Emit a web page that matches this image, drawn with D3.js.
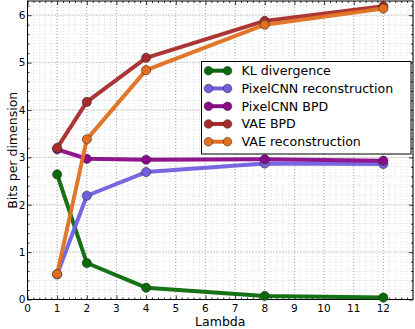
<!DOCTYPE html>
<html><head><meta charset="utf-8">
<script src="https://cdn.jsdelivr.net/npm/d3@7"></script>
<style>body{margin:0;background:#fff}svg{display:block}text{font-family:"DejaVu Sans",sans-serif}</style>
</head><body>
<script>
const lambdas = [1, 2, 4, 8, 12];
const klDivergence = [2.64, 0.77, 0.25, 0.076, 0.04];
const pixelcnnRecon = [0.53, 2.19, 2.69, 2.87, 2.86];
const pixelcnnBPD = [3.17, 2.97, 2.95, 2.96, 2.93];
const vaeBPD = [3.2, 4.17, 5.1, 5.88, 6.19];
const vaeRecon = [0.54, 3.38, 4.84, 5.8, 6.14];
const seriesNames = ["KL divergence", "PixelCNN reconstruction", "PixelCNN BPD", "VAE BPD", "VAE reconstruction"];
const seriesValues = [klDivergence, pixelcnnRecon, pixelcnnBPD, vaeBPD, vaeRecon];
const seriesColors = ["#0a6a0a", "#7060e0", "#8a0a8a", "#a82a2a", "#e07020"];
const xTicks = [0,1,2,3,4,5,6,7,8,9,10,11,12];
const yTicks = [0,1,2,3,4,5,6];

const W = 415, H = 329;
const L = 27.5, R = 413, T = 1, B = 299.5;
const svg = d3.select("body").append("svg").attr("width", W).attr("height", H);
const x = d3.scaleLinear().domain([0, 13]).range([L, R]);
const y = d3.scaleLinear().domain([0, 6.3]).range([B, T]);

// minor grid
const xMinor = d3.range(0, 13.001, 0.2).map(v => +v.toFixed(2));
const yMinor = d3.range(0, 6.301, 0.2).map(v => +v.toFixed(2));
const g = svg.append("g");
g.selectAll(".xm").data(xMinor).enter().append("line")
  .attr("x1", d => x(d)).attr("x2", d => x(d)).attr("y1", T).attr("y2", B)
  .attr("stroke", "#d0d0d0").attr("stroke-width", 0.7).attr("stroke-dasharray", "1,2");
g.selectAll(".ym").data(yMinor).enter().append("line")
  .attr("y1", d => y(d)).attr("y2", d => y(d)).attr("x1", L).attr("x2", R)
  .attr("stroke", "#d0d0d0").attr("stroke-width", 0.7).attr("stroke-dasharray", "1,2");
// major grid
g.selectAll(".xM").data(xTicks.concat([13])).enter().append("line")
  .attr("x1", d => x(d)).attr("x2", d => x(d)).attr("y1", T).attr("y2", B)
  .attr("stroke", "#999").attr("stroke-width", 0.8).attr("stroke-dasharray", "1,2");
g.selectAll(".yM").data(yTicks).enter().append("line")
  .attr("y1", d => y(d)).attr("y2", d => y(d)).attr("x1", L).attr("x2", R)
  .attr("stroke", "#999").attr("stroke-width", 0.8).attr("stroke-dasharray", "1,2");

// axes with inward ticks
function axisTicks(axisGen, tr, size) {
  return svg.append("g").attr("transform", tr).call(axisGen.tickSize(size).tickFormat(""))
    .call(s => s.select(".domain").remove())
    .call(s => s.selectAll("line").attr("stroke", "#000").attr("stroke-width", 0.8));
}
const xMinorTicks = xMinor.filter(v => Math.abs(v - Math.round(v)) > 1e-6);
const yMinorTicks = yMinor.filter(v => Math.abs(v - Math.round(v)) > 1e-6);
axisTicks(d3.axisTop(x).tickValues(xTicks), `translate(0,${B})`, 4);
axisTicks(d3.axisTop(x).tickValues(xMinorTicks), `translate(0,${B})`, 2);
axisTicks(d3.axisBottom(x).tickValues(xTicks), `translate(0,${T})`, 4);
axisTicks(d3.axisBottom(x).tickValues(xMinorTicks), `translate(0,${T})`, 2);
axisTicks(d3.axisRight(y).tickValues(yTicks), `translate(${L},0)`, 4);
axisTicks(d3.axisRight(y).tickValues(yMinorTicks), `translate(${L},0)`, 2);
axisTicks(d3.axisLeft(y).tickValues(yTicks), `translate(${R},0)`, 4);
axisTicks(d3.axisLeft(y).tickValues(yMinorTicks), `translate(${R},0)`, 2);

// tick labels
svg.append("g").selectAll("text").data(xTicks).enter().append("text")
  .attr("x", d => x(d)).attr("y", 311.5).attr("text-anchor", "middle")
  .attr("font-size", 10.5).attr("fill", "#000").text(d => d);
svg.append("g").selectAll("text").data(yTicks).enter().append("text")
  .attr("x", 25.5).attr("y", d => y(d) + 3.8).attr("text-anchor", "end")
  .attr("font-size", 10.5).attr("fill", "#000").text(d => d);

// frame
svg.append("rect").attr("x", L).attr("y", T).attr("width", R - L).attr("height", B - T)
  .attr("fill", "none").attr("stroke", "#000").attr("stroke-width", 1);

// labels
svg.append("text").attr("x", x(6.5)).attr("y", 326).attr("text-anchor", "middle")
  .attr("font-size", 12.5).text("Lambda");
svg.append("text").attr("transform", `translate(17,${y(3.15)}) rotate(-90)`)
  .attr("text-anchor", "middle").attr("font-size", 12.5).text("Bits per dimension");

// series
const line = d3.line().x((d, i) => x(lambdas[i])).y(d => y(d));
const plot = svg.append("g");
seriesValues.forEach((vals, k) => {
  plot.append("path").datum(vals).attr("d", line).attr("fill", "none")
    .attr("stroke", seriesColors[k]).attr("stroke-width", 4).attr("stroke-linejoin", "round")
    .attr("stroke-opacity", 0.95);
  plot.selectAll(null).data(vals).enter().append("circle")
    .attr("cx", (d, i) => x(lambdas[i])).attr("cy", d => y(d)).attr("r", 4.6)
    .attr("fill", seriesColors[k]).attr("stroke", "#2a2a2a").attr("stroke-opacity", 0.7).attr("stroke-width", 0.8);
});

// legend
const lg = svg.append("g");
lg.append("rect").attr("x", 201.5).attr("y", 61.5).attr("width", 209.5).attr("height", 92.5)
  .attr("fill", "#fff").attr("stroke", "#000").attr("stroke-width", 1);
seriesNames.forEach((name, k) => {
  const yy = 70.7 + k * 17.75;
  lg.append("line").attr("x1", 208.5).attr("x2", 227.5).attr("y1", yy).attr("y2", yy)
    .attr("stroke", seriesColors[k]).attr("stroke-width", 4);
  [208.5, 227.5].forEach(cx => lg.append("circle").attr("cx", cx).attr("cy", yy).attr("r", 4.3)
    .attr("fill", seriesColors[k]).attr("stroke", "#2a2a2a").attr("stroke-opacity", 0.7).attr("stroke-width", 0.8));
  lg.append("text").attr("x", 241.5).attr("y", yy + 4.5).attr("font-size", 12.6).text(name);
});
</script>
</body></html>
